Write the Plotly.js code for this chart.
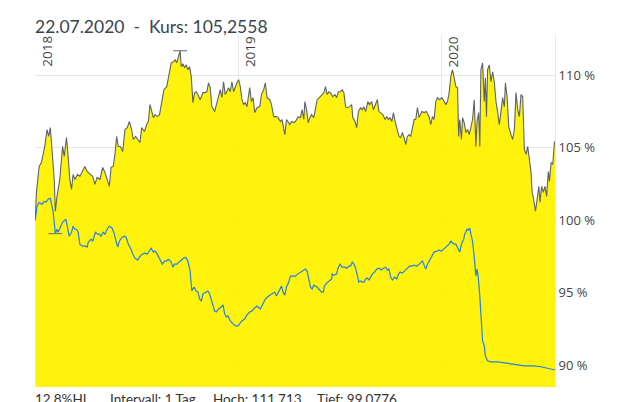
<!DOCTYPE html>
<html>
<head>
<meta charset="utf-8">
<script src="https://cdn.plot.ly/plotly-3.0.1.min.js"></script>
<style>html,body{margin:0;padding:0;background:#fff;}#chart{width:631px;height:402px;}</style>
</head>
<body>
<div id="chart"></div>
<script>
// ---- Data ----
const fundDates = ['2018-01-01','2018-01-03','2018-01-08','2018-01-12','2018-01-18','2018-01-22','2018-01-25','2018-01-28','2018-01-31','2018-02-04','2018-02-06','2018-02-09','2018-02-14','2018-02-19','2018-02-22','2018-02-26','2018-03-01','2018-03-04','2018-03-07','2018-03-10','2018-03-13','2018-03-18','2018-03-22','2018-03-27','2018-03-31','2018-04-04','2018-04-09','2018-04-14','2018-04-18','2018-04-22','2018-04-27','2018-05-02','2018-05-06','2018-05-10','2018-05-14','2018-05-17','2018-05-21','2018-05-24','2018-05-27','2018-05-30','2018-06-03','2018-06-07','2018-06-11','2018-06-15','2018-06-19','2018-06-23','2018-06-26','2018-06-30','2018-07-04','2018-07-08','2018-07-11','2018-07-16','2018-07-20','2018-07-23','2018-07-26','2018-07-29','2018-08-01','2018-08-04','2018-08-08','2018-08-12','2018-08-16','2018-08-20','2018-08-25','2018-08-28','2018-08-30','2018-09-02','2018-09-06','2018-09-09','2018-09-12','2018-09-15','2018-09-18','2018-09-20','2018-09-23','2018-09-26','2018-09-29','2018-10-02','2018-10-05','2018-10-08','2018-10-11','2018-10-14','2018-10-17','2018-10-20','2018-10-24','2018-10-29','2018-11-01','2018-11-05','2018-11-08','2018-11-11','2018-11-14','2018-11-19','2018-11-22','2018-11-25','2018-11-29','2018-12-02','2018-12-05','2018-12-08','2018-12-11','2018-12-14','2018-12-17','2018-12-20','2018-12-23','2018-12-26','2018-12-29','2019-01-01','2019-01-04','2019-01-07','2019-01-10','2019-01-13','2019-01-16','2019-01-21','2019-01-24','2019-01-27','2019-01-30','2019-02-03','2019-02-08','2019-02-11','2019-02-15','2019-02-18','2019-02-21','2019-02-26','2019-03-01','2019-03-05','2019-03-10','2019-03-13','2019-03-17','2019-03-20','2019-03-23','2019-03-25','2019-03-28','2019-03-31','2019-04-03','2019-04-06','2019-04-10','2019-04-13','2019-04-18','2019-04-22','2019-04-25','2019-04-28','2019-04-30','2019-05-03','2019-05-06','2019-05-09','2019-05-12','2019-05-16','2019-05-19','2019-05-22','2019-05-26','2019-05-30','2019-06-03','2019-06-06','2019-06-09','2019-06-12','2019-06-15','2019-06-19','2019-06-23','2019-06-26','2019-06-29','2019-07-03','2019-07-06','2019-07-09','2019-07-12','2019-07-15','2019-07-19','2019-07-23','2019-07-25','2019-07-29','2019-08-01','2019-08-04','2019-08-08','2019-08-11','2019-08-14','2019-08-17','2019-08-21','2019-08-24','2019-08-28','2019-08-31','2019-09-04','2019-09-07','2019-09-10','2019-09-13','2019-09-17','2019-09-21','2019-09-24','2019-09-27','2019-09-30','2019-10-03','2019-10-06','2019-10-09','2019-10-13','2019-10-16','2019-10-19','2019-10-22','2019-10-25','2019-10-28','2019-10-31','2019-11-03','2019-11-06','2019-11-09','2019-11-12','2019-11-15','2019-11-18','2019-11-21','2019-11-26','2019-11-30','2019-12-04','2019-12-09','2019-12-12','2019-12-15','2019-12-18','2019-12-21','2019-12-24','2019-12-28','2020-01-01','2020-01-05','2020-01-08','2020-01-11','2020-01-14','2020-01-17','2020-01-20','2020-01-23','2020-01-26','2020-01-29','2020-01-31','2020-02-02','2020-02-05','2020-02-07','2020-02-10','2020-02-13','2020-02-16','2020-02-19','2020-02-22','2020-02-25','2020-02-28','2020-03-02','2020-03-04','2020-03-07','2020-03-09','2020-03-11','2020-03-14','2020-03-17','2020-03-19','2020-03-21','2020-03-23','2020-03-26','2020-03-29','2020-04-01','2020-04-04','2020-04-07','2020-04-10','2020-04-13','2020-04-16','2020-04-19','2020-04-22','2020-04-24','2020-04-27','2020-04-30','2020-05-04','2020-05-07','2020-05-10','2020-05-13','2020-05-16','2020-05-19','2020-05-22','2020-05-25','2020-05-28','2020-05-31','2020-06-03','2020-06-06','2020-06-09','2020-06-11','2020-06-13','2020-06-17','2020-06-20','2020-06-23','2020-06-25','2020-06-28','2020-07-01','2020-07-04','2020-07-07','2020-07-10','2020-07-12','2020-07-15','2020-07-18','2020-07-21','2020-07-22'];
const fundValues = [100.00,101.93,103.72,103.99,105.10,106.27,105.79,106.40,104.89,102.82,100.62,101.65,102.82,105.10,104.41,105.72,104.41,102.82,102.13,103.17,102.82,103.17,103.03,103.37,103.72,103.37,103.17,103.03,102.48,102.96,102.82,103.65,103.31,102.82,102.34,103.65,103.72,104.55,105.79,105.10,105.10,104.75,106.27,106.40,106.82,106.27,105.58,105.79,105.58,105.37,106.40,106.13,106.61,106.82,107.99,107.44,107.09,107.30,107.16,107.30,108.20,109.02,109.23,109.92,110.19,110.88,110.95,111.09,110.88,111.23,111.713,110.61,110.81,110.54,110.74,110.40,110.61,109.92,108.13,108.82,108.88,108.68,108.33,108.82,108.82,108.88,109.50,109.16,107.85,107.51,107.99,108.54,109.02,108.47,109.57,108.68,108.88,109.16,108.88,109.57,108.88,109.23,109.50,109.71,109.23,108.33,107.99,108.13,107.85,109.16,108.20,108.47,107.44,107.78,107.85,108.68,109.02,109.50,108.47,108.33,107.99,107.16,107.16,107.09,106.82,106.96,106.27,105.92,106.96,106.82,106.61,106.82,106.75,106.82,107.16,107.09,107.64,106.96,108.20,107.64,106.75,107.09,107.30,107.09,107.85,108.33,108.47,108.68,108.82,109.23,108.68,108.88,108.82,108.54,108.68,108.47,108.88,108.88,109.02,108.82,107.85,107.78,107.85,107.99,107.09,106.82,106.40,107.51,107.78,107.64,107.85,107.51,108.20,107.99,108.20,107.64,107.99,108.33,107.51,107.44,107.30,106.96,107.16,106.96,107.09,106.82,107.44,106.82,106.27,105.79,105.72,106.06,105.72,105.23,105.79,105.92,105.79,106.47,106.96,106.96,107.78,107.09,107.51,107.44,107.51,107.16,106.61,107.16,106.96,108.20,108.47,108.33,108.47,108.20,107.99,108.20,108.82,109.92,110.40,109.85,109.23,109.16,105.79,106.96,105.58,107.09,106.75,106.06,106.27,105.92,106.47,106.96,108.33,105.10,106.82,107.44,105.10,110.40,110.88,108.20,109.85,107.16,110.40,110.74,109.57,110.26,109.57,108.20,107.51,106.61,107.51,108.47,107.85,109.50,108.54,106.47,105.92,105.58,106.27,108.82,107.64,107.16,108.68,108.54,104.89,104.55,105.10,103.99,103.31,101.93,101.58,100.62,101.65,102.34,101.24,102.34,101.93,102.34,101.65,103.37,102.69,103.99,103.86,105.44,105.2558];

const benchDates = ['2018-01-01','2018-01-04','2018-01-08','2018-01-13','2018-01-17','2018-01-20','2018-01-24','2018-01-28','2018-01-31','2018-02-02','2018-02-06','2018-02-09','2018-02-11','2018-02-15','2018-02-19','2018-02-25','2018-02-28','2018-03-03','2018-03-07','2018-03-10','2018-03-13','2018-03-16','2018-03-19','2018-03-22','2018-03-27','2018-04-01','2018-04-04','2018-04-06','2018-04-11','2018-04-14','2018-04-19','2018-04-23','2018-04-26','2018-04-29','2018-05-03','2018-05-06','2018-05-11','2018-05-14','2018-05-19','2018-05-23','2018-05-26','2018-05-29','2018-06-01','2018-06-06','2018-06-10','2018-06-13','2018-06-17','2018-06-22','2018-06-25','2018-06-29','2018-07-04','2018-07-07','2018-07-12','2018-07-16','2018-07-21','2018-07-25','2018-07-28','2018-08-01','2018-08-04','2018-08-08','2018-08-10','2018-08-13','2018-08-17','2018-08-21','2018-08-24','2018-08-28','2018-09-02','2018-09-05','2018-09-08','2018-09-12','2018-09-16','2018-09-20','2018-09-24','2018-09-28','2018-10-02','2018-10-06','2018-10-09','2018-10-13','2018-10-17','2018-10-20','2018-10-23','2018-10-26','2018-10-29','2018-11-01','2018-11-04','2018-11-07','2018-11-10','2018-11-14','2018-11-19','2018-11-22','2018-11-26','2018-12-01','2018-12-04','2018-12-07','2018-12-10','2018-12-13','2018-12-17','2018-12-22','2018-12-26','2018-12-31','2019-01-03','2019-01-07','2019-01-12','2019-01-16','2019-01-21','2019-01-25','2019-01-30','2019-02-03','2019-02-09','2019-02-14','2019-02-18','2019-02-24','2019-03-02','2019-03-07','2019-03-10','2019-03-14','2019-03-19','2019-03-22','2019-03-25','2019-03-28','2019-04-01','2019-04-04','2019-04-09','2019-04-13','2019-04-17','2019-04-22','2019-04-27','2019-05-01','2019-05-04','2019-05-07','2019-05-10','2019-05-13','2019-05-16','2019-05-19','2019-05-22','2019-05-25','2019-05-30','2019-06-02','2019-06-04','2019-06-08','2019-06-12','2019-06-17','2019-06-18','2019-06-21','2019-06-26','2019-06-28','2019-07-02','2019-07-06','2019-07-10','2019-07-14','2019-07-18','2019-07-21','2019-07-24','2019-07-27','2019-07-30','2019-08-02','2019-08-05','2019-08-08','2019-08-11','2019-08-14','2019-08-17','2019-08-20','2019-08-23','2019-08-26','2019-08-29','2019-09-02','2019-09-06','2019-09-10','2019-09-14','2019-09-18','2019-09-22','2019-09-25','2019-09-28','2019-10-01','2019-10-04','2019-10-08','2019-10-12','2019-10-15','2019-10-18','2019-10-22','2019-10-26','2019-10-31','2019-11-04','2019-11-08','2019-11-12','2019-11-16','2019-11-20','2019-11-23','2019-11-27','2019-11-30','2019-12-03','2019-12-06','2019-12-09','2019-12-12','2019-12-15','2019-12-18','2019-12-23','2019-12-27','2019-12-31','2020-01-04','2020-01-08','2020-01-11','2020-01-14','2020-01-17','2020-01-20','2020-01-23','2020-01-26','2020-01-29','2020-02-01','2020-02-02','2020-02-05','2020-02-09','2020-02-11','2020-02-15','2020-02-17','2020-02-20','2020-02-22','2020-02-25','2020-02-28','2020-03-02','2020-03-04','2020-03-06','2020-03-09','2020-03-11','2020-03-14','2020-03-17','2020-03-19','2020-03-23','2020-03-29','2020-04-10','2020-04-22','2020-05-04','2020-05-16','2020-05-28','2020-06-12','2020-06-27','2020-07-12','2020-07-22'];
const benchValues = [100.00,100.96,101.24,101.10,101.31,101.24,101.45,101.52,100.96,100.62,99.0776,99.38,99.17,99.59,99.86,100.07,99.38,98.90,99.17,99.59,99.38,99.38,99.17,98.35,98.21,98.21,98.14,98.48,98.69,98.55,99.17,99.04,99.04,98.90,99.17,99.04,99.45,99.59,99.45,99.04,98.55,98.14,98.55,98.83,98.90,98.83,98.35,98.00,97.66,97.38,97.25,97.45,97.66,97.73,97.66,97.87,98.07,97.80,97.87,97.66,97.52,97.31,96.97,97.18,97.18,97.31,97.11,96.76,96.97,96.97,97.11,97.18,97.38,97.45,97.18,96.49,95.11,95.39,95.11,95.04,94.56,94.42,94.90,94.97,95.04,95.11,94.90,94.35,93.73,93.66,93.87,94.01,94.15,93.53,93.32,93.39,93.04,92.84,92.70,92.70,92.84,93.04,93.18,93.46,93.66,93.73,93.94,94.08,93.87,94.21,94.56,94.77,94.90,95.04,94.77,95.11,95.45,95.04,94.83,95.39,95.73,96.14,96.14,96.14,96.28,96.42,96.56,96.63,96.49,95.94,95.39,95.25,95.52,95.45,95.39,95.25,95.04,95.04,95.45,95.66,95.80,95.94,96.28,96.21,96.28,96.63,96.97,96.76,96.76,96.69,96.83,96.83,97.11,96.97,96.69,96.28,95.73,95.80,95.73,95.73,95.94,96.01,95.87,96.07,96.28,96.42,96.63,96.69,96.56,96.69,96.76,96.56,96.63,96.07,95.87,96.07,95.94,96.28,96.42,96.35,96.49,96.63,96.83,96.83,96.90,96.83,96.90,97.04,97.18,96.90,96.63,96.97,97.18,97.31,97.59,97.80,97.87,97.93,97.87,98.00,98.14,98.21,98.35,98.55,98.48,98.35,98.35,98.14,97.87,97.80,98.35,98.69,99.04,99.38,99.31,99.45,99.04,98.55,97.45,96.14,96.63,96.14,94.77,93.18,91.67,91.32,90.63,90.29,90.22,90.22,90.15,90.08,90.01,89.94,89.94,89.88,89.74,89.67];

const hochDate = '2018-09-18', hochValue = 111.713;
const tiefDate = '2018-02-06', tiefValue = 99.0776;

const yearTickDates = ['2018-01-01','2019-01-01','2020-01-01'];
const yearTickLabels = ['2018','2019','2020'];
const yTickValues = [90, 95, 100, 105, 110];
const yTickLabels = ['90 %', '95 %', '100 %', '105 %', '110 %'];

const titleText = '22.07.2020\u00a0\u00a0-\u00a0\u00a0Kurs: 105,2558';
const statsLabels = ['12,8%HI', 'Intervall: 1 Tag', 'Hoch: 111,713', 'Tief: 99,0776'];
const statsPositions = [0, 0.144, 0.342, 0.542];

// ---- Chart ----
const traces = [
  {
    x: fundDates, y: fundValues, type: 'scatter', mode: 'lines',
    fill: 'tozeroy', fillcolor: 'rgba(255,242,0,0.95)',
    line: {color: '#5d636b', width: 1.1}, hoverinfo: 'skip'
  },
  {
    x: benchDates, y: benchValues, type: 'scatter', mode: 'lines',
    line: {color: '#1f82e6', width: 1.2}, hoverinfo: 'skip'
  },
  {
    x: [hochDate, tiefDate], y: [hochValue, tiefValue], type: 'scatter', mode: 'markers',
    marker: {symbol: 'line-ew', size: 10, line: {color: '#7a7f86', width: 1.2}}, hoverinfo: 'skip'
  }
];

const annotations = statsLabels.map((t, i) => ({
  text: t, xref: 'paper', yref: 'paper', x: statsPositions[i], y: 0,
  xanchor: 'left', yanchor: 'top', showarrow: false, xshift: -2, yshift: -2,
  font: {family: 'Lato, Open Sans, sans-serif', size: 13.5, color: '#333'}
})).concat(yearTickLabels.map((t, i) => ({
  text: t, xref: 'x', yref: 'paper', x: yearTickDates[i], y: 1,
  xanchor: 'left', yanchor: 'top', showarrow: false, textangle: -90,
  xshift: 0, yshift: 1,
  font: {family: 'Open Sans, sans-serif', size: 13.5, color: '#444'}
})));

const layout = {
  width: 631, height: 402,
  margin: {l: 35, r: 76, t: 35, b: 15},
  paper_bgcolor: '#ffffff', plot_bgcolor: '#ffffff',
  showlegend: false,
  title: {
    text: titleText, x: 0, xanchor: 'left', xref: 'paper',
    y: 1 - 27/402, yanchor: 'middle', yref: 'container',
    font: {family: 'Lato, Open Sans, sans-serif', size: 17.5, color: '#3a4450'}
  },
  xaxis: {
    type: 'date', range: ['2017-12-31 12:00', '2020-07-22'],
    tickmode: 'array', tickvals: yearTickDates, ticktext: yearTickLabels,
    showticklabels: false, ticks: '',
    showgrid: true, gridcolor: '#e8e8e8', gridwidth: 1,
    showline: false, zeroline: false
  },
  yaxis: {
    side: 'right', range: [88.48, 112.8],
    tickmode: 'array', tickvals: yTickValues, ticktext: yTickLabels,
    showgrid: true, gridcolor: '#e8e8e8', gridwidth: 1,
    showline: true, linecolor: '#e8e8e8', linewidth: 1,
    zeroline: false, ticks: '',
    tickfont: {family: 'Open Sans, sans-serif', size: 13, color: '#444'}
  },
  annotations: annotations
};

Plotly.newPlot('chart', traces, layout, {staticPlot: true, displayModeBar: false});
</script>
</body>
</html>
